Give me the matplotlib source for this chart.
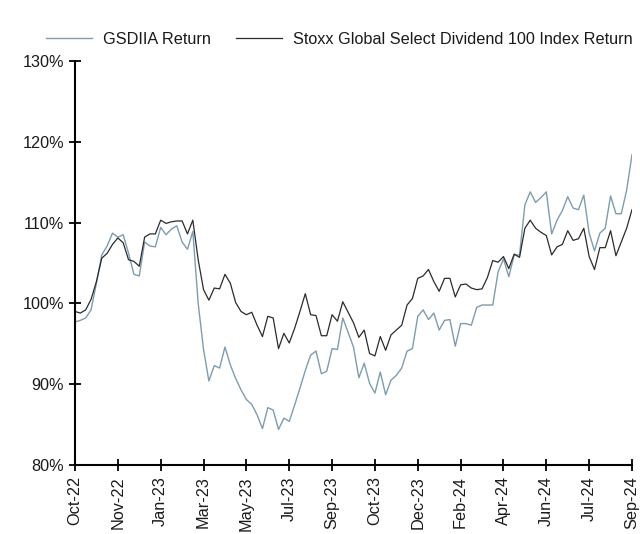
import matplotlib
matplotlib.use('Agg')
import matplotlib.pyplot as plt
import numpy as np

plt.rcParams['font.family'] = ['Liberation Sans', 'DejaVu Sans']

# weekly index returns, Oct-22 .. Sep-24
gsdiia = [
    97.7, 97.9, 98.2, 99.2, 102.5, 106.0, 107.1, 108.7, 108.2, 108.5,
    106.2, 103.6, 103.4, 107.6, 107.1, 107.0, 109.4, 108.5, 109.2, 109.6,
    107.6, 106.7, 108.9, 100.0, 94.3, 90.4, 92.3, 92.0, 94.6, 92.4,
    90.7, 89.3, 88.1, 87.5, 86.2, 84.5, 87.1, 86.8, 84.4, 85.8,
    85.4, 87.4, 89.5, 91.7, 93.6, 94.1, 91.3, 91.6, 94.4, 94.3,
    98.2, 96.4, 94.6, 90.8, 92.6, 90.1, 88.9, 91.5, 88.7, 90.5,
    91.1, 92.0, 94.1, 94.4, 98.4, 99.2, 98.0, 98.8, 96.7, 97.9,
    98.0, 94.7, 97.5, 97.5, 97.3, 99.5, 99.8, 99.8, 99.8, 103.9,
    105.5, 103.3, 106.0, 106.0, 112.2, 113.8, 112.5, 113.1, 113.8, 108.6,
    110.3, 111.5, 113.2, 111.8, 111.6, 113.4, 108.7, 106.5, 108.7, 109.3,
    113.3, 111.1, 111.1, 114.0, 118.4]

stoxx = [
    99.0, 98.8, 99.2, 100.5, 102.7, 105.6, 106.2, 107.3, 108.1, 107.5,
    105.4, 105.2, 104.6, 108.2, 108.6, 108.6, 110.3, 109.9, 110.1, 110.2,
    110.2, 108.6, 110.3, 105.4, 101.7, 100.4, 101.9, 101.8, 103.6, 102.5,
    100.1, 99.0, 98.6, 98.9, 97.3, 95.9, 98.4, 98.2, 94.4, 96.3,
    95.1, 96.9, 99.0, 101.2, 98.6, 98.5, 96.0, 96.0, 98.6, 97.8,
    100.2, 98.9, 97.6, 95.8, 96.7, 93.8, 93.5, 95.9, 94.2, 96.1,
    96.7, 97.3, 99.8, 100.6, 103.1, 103.4, 104.2, 102.7, 101.5, 103.1,
    103.1, 100.8, 102.3, 102.4, 101.9, 101.7, 101.8, 103.2, 105.3, 105.1,
    105.8, 104.3, 106.1, 105.7, 109.3, 110.3, 109.3, 108.8, 108.4, 106.0,
    107.0, 107.3, 109.0, 107.8, 108.0, 109.3, 105.8, 104.2, 106.9, 106.9,
    109.0, 105.9, 107.6, 109.3, 111.6]

tick_labels = ['Oct-22', 'Nov-22', 'Jan-23', 'Mar-23', 'May-23', 'Jul-23', 'Sep-23',
               'Oct-23', 'Dec-23', 'Feb-24', 'Apr-24', 'Jun-24', 'Jul-24', 'Sep-24']
tick_every = 8

x = np.arange(len(gsdiia))

fig = plt.figure(figsize=(6.4, 5.34), dpi=100)
ax = fig.add_axes([75/640, 1-465/534, (632-75)/640, (465-61)/534])

ax.plot(x, gsdiia, color='#7f9cad', lw=1.0, label='GSDIIA Return')
ax.plot(x, stoxx, color='#2b2b2b', lw=0.9, label='Stoxx Global Select Dividend 100 Index Return')

ax.set_xlim(0, len(x) - 1)
ax.set_ylim(80, 130)
ax.set_yticks(range(80, 131, 10))
ax.set_yticklabels([f'{v}%' for v in range(80, 131, 10)])
ax.set_xticks(x[::tick_every])
ax.set_xticklabels(tick_labels, rotation=90)

for s in ['top', 'right']:
    ax.spines[s].set_visible(False)
for s in ['left', 'bottom']:
    ax.spines[s].set_linewidth(1.5)
    ax.spines[s].set_color('black')
ax.tick_params(direction='inout', length=8, width=1.3, labelsize=11.7, pad=4,
               labelcolor='#1a1a1a')

fig.legend(loc='center', bbox_to_anchor=(0.530, 1-39/534), ncol=2, frameon=False,
           fontsize=11.7, handlelength=2.85, handletextpad=0.65, columnspacing=1.55,
           labelcolor='#1a1a1a')

fig.savefig('out.png', dpi=100)
